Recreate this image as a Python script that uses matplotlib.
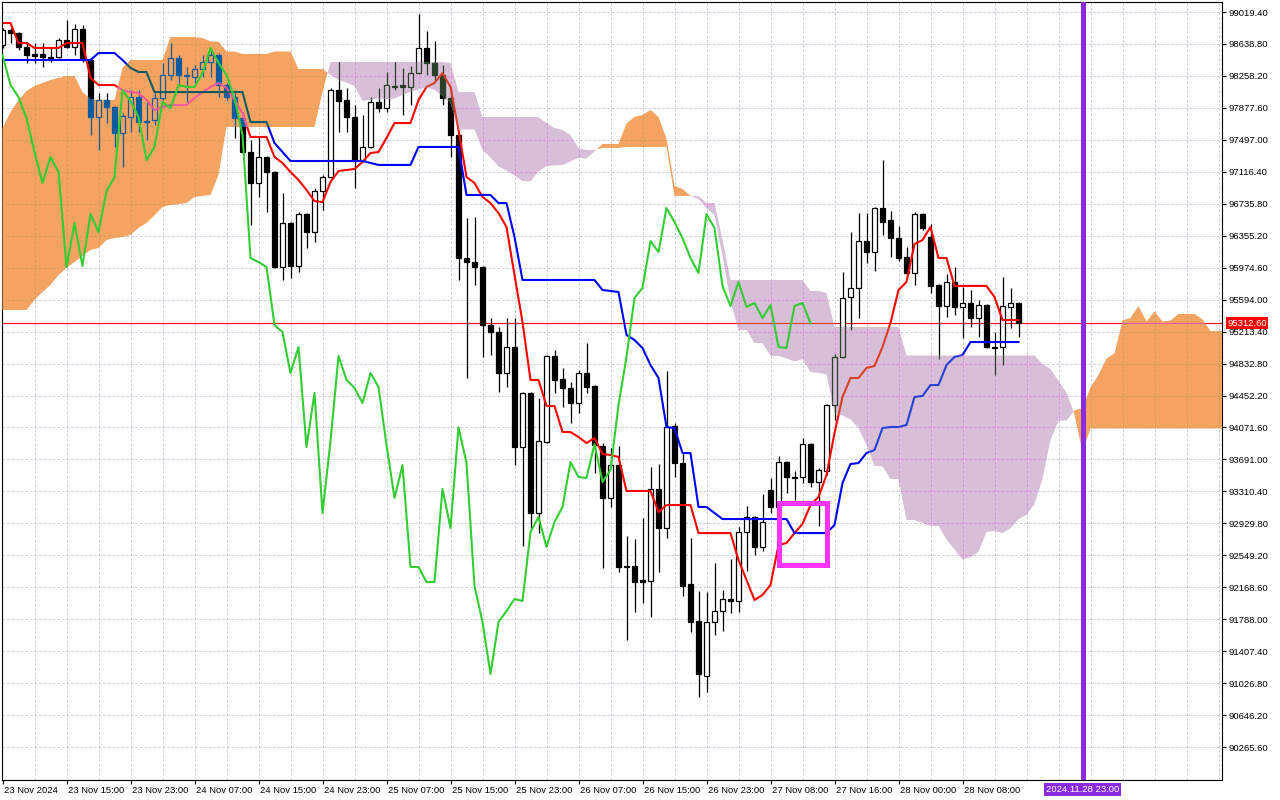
import numpy as np
import matplotlib
matplotlib.use('Agg')
import matplotlib.pyplot as plt
from matplotlib.path import Path
from matplotlib.patches import Rectangle
from matplotlib.transforms import blended_transform_factory, ScaledTranslation

plt.rcParams['font.family'] = ['Liberation Sans', 'DejaVu Sans']

# BTCUSD H1 candles, 23 Nov 07:00 .. 28 Nov 15:00

open_ = [98626, 98805, 98769, 98603, 98519, 98519, 98484, 98484, 98686, 98603,
         98817, 98448, 97769, 97971, 97888, 97578, 97769, 98007, 97721, 97733,
         97995, 98269, 98472, 98269, 98246, 98341, 98424, 98507, 98150, 98007,
         97757, 97352, 96983, 97293, 97114, 95983, 96506, 95995, 96613, 96399,
         96888, 97055, 98090, 97971, 97769, 97257, 97412, 97947, 97876, 98139,
         98150, 98127, 98293, 98591, 98412, 98269, 97995, 97554, 96090, 96042,
         95983, 95291, 95208, 94720, 95030, 93839, 94482, 93053, 93898, 94923,
         94649, 94542, 94363, 94720, 94566, 93851, 93232, 93624, 92422, 92422,
         92255, 92243, 93339, 92874, 94089, 93648, 92207, 91767, 91112, 91755,
         91886, 92029, 92005, 92826, 93006, 92648, 93327, 93125, 93660, 93482,
         93482, 93874, 93422, 93553, 94339, 94911, 95626, 95733, 96292, 96161,
         96685, 96542, 96328, 96102, 95911, 96613, 96340, 95768, 95519, 95804,
         95507, 95554, 95375, 95530, 95030, 95030, 95507, 95554]

high = [98829, 98829, 98781, 98662, 98650, 98650, 98603, 98710, 98924, 98876,
        98864, 98472, 98054, 98054, 97900, 97816, 98090, 98090, 97947, 98054,
        98412, 98650, 98507, 98365, 98388, 98507, 98591, 98531, 98174, 98054,
        97828, 97495, 97531, 97305, 97126, 96864, 96518, 96637, 96625, 96924,
        97078, 98115, 98424, 98115, 97911, 97792, 98007, 98115, 98305, 98424,
        98353, 98377, 98995, 98793, 98674, 98388, 98115, 97590, 96566, 96578,
        95995, 95375, 95268, 95375, 95375, 94494, 94494, 94423, 94934, 94994,
        94780, 94613, 94756, 95077, 94577, 93886, 93827, 93851, 92779, 92743,
        92994, 93601, 93636, 94744, 94124, 93779, 92755, 92124, 92112, 92457,
        92136, 92505, 92886, 93137, 93018, 93279, 93470, 93732, 93672, 93553,
        93946, 93886, 93589, 94351, 94946, 95923, 96399, 96625, 96625, 96697,
        97257, 96649, 96471, 96221, 96637, 96625, 96494, 95780, 95899, 95983,
        95745, 95709, 95590, 95542, 95208, 95864, 95733, 95566]

low = [98591, 98650, 98567, 98412, 98412, 98365, 98424, 98472, 98591, 98507,
       98424, 97554, 97376, 97697, 97412, 97174, 97590, 97590, 97495, 97673,
       97971, 98210, 98174, 97947, 98174, 98246, 98246, 98007, 97971, 97519,
       97340, 96482, 96817, 96637, 95971, 95828, 95852, 95923, 96209, 96280,
       96661, 97043, 97590, 97590, 96924, 97245, 97400, 97828, 97828, 98090,
       97792, 97911, 98281, 98269, 98186, 97911, 97293, 95828, 94661, 95768,
       94911, 94934, 94494, 94554, 93624, 92660, 92874, 92814, 93886, 94482,
       94316, 94124, 94243, 94482, 93529, 92398, 93125, 92350, 91540, 91874,
       91981, 91815, 92350, 92755, 93482, 92065, 91635, 90862, 90921, 91599,
       91647, 91862, 91874, 92362, 92552, 92600, 93053, 93065, 93291, 93208,
       93410, 93363, 92898, 93505, 94160, 94899, 95232, 95375, 96030, 95935,
       96363, 96102, 96054, 95887, 95768, 96423, 95673, 94887, 95387, 95410,
       95137, 95268, 95149, 95018, 94696, 94815, 95256, 95149]

close = [98805, 98769, 98603, 98507, 98496, 98484, 98472, 98686, 98603, 98817,
         98448, 97769, 97971, 97888, 97578, 97781, 98007, 97709, 97709, 97995,
         98269, 98472, 98269, 98258, 98341, 98424, 98507, 98150, 98007, 97757,
         97352, 96983, 97293, 97114, 95983, 96506, 95995, 96613, 96399, 96888,
         97055, 98090, 97959, 97769, 97257, 97412, 97947, 97876, 98150, 98127,
         98127, 98293, 98591, 98412, 98269, 97995, 97554, 96090, 96042, 95983,
         95291, 95208, 94720, 95030, 93839, 94482, 93053, 93910, 94923, 94637,
         94542, 94363, 94720, 94554, 93862, 93232, 93624, 92410, 92410, 92231,
         92231, 93339, 92874, 94077, 93648, 92184, 91755, 91135, 91755, 91886,
         92029, 92005, 92826, 93006, 92648, 92945, 93125, 93660, 93482, 93470,
         93874, 93422, 93565, 94339, 94911, 95614, 95733, 96292, 96161, 96685,
         96518, 96328, 96090, 95911, 96613, 96447, 95757, 95519, 95804, 95507,
         95554, 95375, 95530, 95030, 95018, 95519, 95554, 95312.6]

# Ichimoku (9, 26, 52) as shown on the chart
tenkan = [98888, 98888, 98650, 98650, 98591, 98591, 98591, 98591, 98650, 98650,
          98650, 98234, 98150, 98150, 98150, 98090, 98066, 98054, 97971, 97852,
          97888, 97911, 97911, 97911, 97995, 98066, 98127, 98174, 98115, 97971,
          97816, 97531, 97531, 97531, 97293, 97221, 97114, 97019, 96900, 96768,
          96756, 96995, 97126, 97138, 97150, 97233, 97340, 97352, 97519, 97697,
          97697, 97697, 97971, 98127, 98174, 98293, 98127, 97614, 97055, 96983,
          96817, 96744, 96625, 96459, 95888, 95327, 94637, 94637, 94327, 94327,
          94017, 94017, 93958, 93886, 93946, 93756, 93744, 93720, 93315, 93315,
          93315, 93315, 93065, 93148, 93148, 93148, 93148, 92814, 92814, 92814,
          92814, 92814, 92493, 92255, 92017, 92077, 92196, 92672, 92695, 92814,
          92922, 93148, 93244, 93505, 94005, 94435, 94661, 94661, 94780, 94804,
          95030, 95316, 95709, 95804, 96256, 96304, 96459, 96090, 96090, 95757,
          95757, 95757, 95757, 95757, 95626, 95351, 95351, 95351]

kijun = [98448, 98448, 98448, 98448, 98448, 98448, 98448, 98448, 98448, 98448,
         98448, 98448, 98531, 98531, 98531, 98448, 98353, 98305, 98305, 98066,
         98066, 98066, 98066, 98066, 98066, 98066, 98066, 98066, 98066, 98066,
         98066, 97709, 97709, 97709, 97459, 97352, 97245, 97245, 97245, 97245,
         97245, 97245, 97245, 97245, 97245, 97245, 97221, 97198, 97198, 97198,
         97198, 97198, 97412, 97412, 97412, 97412, 97412, 97412, 96840, 96840,
         96840, 96840, 96744, 96744, 96340, 95828, 95828, 95828, 95828, 95828,
         95828, 95828, 95828, 95828, 95828, 95709, 95697, 95685, 95173, 95113,
         95018, 94815, 94661, 94077, 94065, 93767, 93767, 93125, 93125, 93053,
         92981, 92981, 92981, 92981, 92981, 92981, 92981, 92981, 92981, 92814,
         92814, 92814, 92814, 92814, 92910, 93410, 93636, 93648, 93767, 93803,
         94065, 94077, 94077, 94101, 94435, 94447, 94577, 94577, 94815, 94911,
         94934, 95089, 95089, 95089, 95089, 95089, 95089, 95089]

span_a = [97638, 97828, 97971, 98078, 98139, 98174, 98210, 98234, 98258, 98258,
          98066, 97983, 97971, 97971, 97971, 98353, 98448, 98448, 98448, 98448,
          98448, 98721, 98721, 98721, 98721, 98710, 98668, 98668, 98549, 98549,
          98520, 98520, 98520, 98520, 98549, 98549, 98549, 98341, 98341, 98341,
          98341, 98269, 98210, 98180, 98138, 97959, 97977, 97989, 97989, 97989,
          98031, 98066, 98097, 98120, 98091, 98019, 97941, 97620, 97620, 97620,
          97376, 97287, 97180, 97132, 97073, 97007, 97001, 97120, 97186, 97192,
          97198, 97239, 97281, 97275, 97359, 97448, 97448, 97448, 97692, 97770,
          97793, 97853, 97770, 97513, 96948, 96912, 96829, 96792, 96685, 96602,
          96114, 95578, 95233, 95233, 95078, 95078, 94923, 94923, 94893, 94857,
          94887, 94733, 94721, 94703, 94244, 94214, 94167, 94065, 93863, 93613,
          93607, 93458, 93458, 92970, 92970, 92934, 92898, 92898, 92737, 92618,
          92499, 92529, 92589, 92827, 92838, 92814, 92868, 92981, 93029, 93160,
          93458, 93923, 94149, 94155, 94274, 94304, 94548, 94697, 94893, 94953,
          95346, 95376, 95518, 95334, 95453, 95334, 95346, 95423, 95423, 95423,
          95358, 95220, 95220, 95220]

span_b = [95470, 95470, 95470, 95470, 95590, 95685, 95768, 95888, 95971, 96042,
          96114, 96185, 96209, 96304, 96328, 96340, 96363, 96447, 96506, 96601,
          96697, 96721, 96732, 96744, 96817, 96829, 96840, 97078, 97650, 97650,
          97650, 97650, 97650, 97650, 97650, 97650, 97650, 97650, 97650, 97650,
          98066, 98424, 98424, 98424, 98424, 98424, 98424, 98424, 98424, 98424,
          98424, 98424, 98424, 98424, 98424, 98424, 98412, 98066, 98066, 98066,
          97769, 97769, 97769, 97769, 97769, 97769, 97769, 97769, 97697, 97638,
          97614, 97554, 97400, 97376, 97376, 97400, 97400, 97400, 97412, 97412,
          97412, 97412, 97412, 97412, 96828, 96828, 96828, 96828, 96745, 96745,
          96310, 95828, 95828, 95828, 95828, 95828, 95828, 95828, 95828, 95828,
          95828, 95697, 95697, 95673, 95268, 95268, 95268, 95268, 95268, 95268,
          95268, 95268, 95268, 94929, 94929, 94929, 94929, 94929, 94929, 94929,
          94929, 94929, 94929, 94929, 94929, 94929, 94929, 94929, 94929, 94929,
          94828, 94768, 94625, 94489, 94226, 93780, 94060, 94060, 94060, 94060,
          94060, 94060, 94060, 94060, 94060, 94060, 94060, 94060, 94060, 94060,
          94060, 94060, 94060, 94060]

price_ticks = [99019.40, 98638.80, 98258.20, 97877.60, 97497.00, 97116.40,
               96735.80, 96355.20, 95974.60, 95594.00, 95213.40, 94832.80,
               94452.20, 94071.60, 93691.00, 93310.40, 92929.80, 92549.20,
               92168.60, 91788.00, 91407.40, 91026.80, 90646.20, 90265.60]

time_labels = ['23 Nov 2024', '23 Nov 15:00', '23 Nov 23:00', '24 Nov 07:00',
               '24 Nov 15:00', '24 Nov 23:00', '25 Nov 07:00', '25 Nov 15:00',
               '25 Nov 23:00', '26 Nov 07:00', '26 Nov 15:00', '26 Nov 23:00',
               '27 Nov 08:00', '27 Nov 16:00', '28 Nov 00:00', '28 Nov 08:00']

# highlighted area and the vertical time marker
box_bars = (97, 103)
box_prices = (92428, 93172)
marker_bar = 135
marker_label = '2024.11.28 23:00'
shift = 26

open_ = np.array(open_, float)
high = np.array(high, float)
low = np.array(low, float)
close = np.array(close, float)
tenkan = np.array(tenkan, float)
kijun = np.array(kijun, float)
span_a = np.array(span_a, float)
span_b = np.array(span_b, float)
last_price = close[-1]

n = len(close)
bars = np.arange(n)
cloud_bars = np.arange(len(span_a))
bull = close > open_

UP_KUMO = '#F4A460'
DN_KUMO = '#D8BFD8'
GRID = '#C6C2D2'
# MT5 paints the kumo in xor mode, so whatever lies under it changes colour
XOR = {
    'up': dict(black='#0B5B9F', red='#F45B9F', blue='#0B5B60', grid='#CB9B5F', fill=UP_KUMO),
    'dn': dict(black='#274027', red='#D84027', blue='#2740D8', grid='#E780E7', fill=DN_KUMO),
}

fig = plt.figure(figsize=(12.8, 8), dpi=100, facecolor='white')
ax = fig.add_axes([2 / 1280, 20 / 800, 1220 / 1280, 778 / 800])
ax.set_facecolor('white')
ax.set_xlim(-0.0625, 152.4375)
ax.set_ylim(89873.3, 99138.5)
xlo, xhi = ax.get_xlim()
ylo, yhi = ax.get_ylim()
grid_x = np.arange(4, xhi, 4)
dash = (0, (3, 2.5))


def draw_layer(col, clip=None, z=2.0):
    arts = []
    arts.append(ax.hlines(price_ticks, xlo, xhi, colors=col['grid'], linestyles=dash, lw=0.6, zorder=z))
    arts.append(ax.vlines(grid_x, ylo, yhi, colors=col['grid'], linestyles=dash, lw=0.6, zorder=z))
    arts.append(ax.axhline(last_price, color=col['red'], lw=0.8, zorder=z + 0.1))
    arts.append(ax.vlines(bars, low, high, colors=col['black'], lw=0.9, zorder=z + 0.2))
    face = [col['fill'] if b else col['black'] for b in bull]
    body = ax.bar(bars, np.abs(close - open_), bottom=np.minimum(open_, close), width=0.6,
                  color=face, edgecolor=col['black'], lw=0.9, zorder=z + 0.3)
    arts.extend(body.patches)
    arts.extend(ax.plot(bars, tenkan, color=col['red'], lw=1.5, zorder=z + 0.4))
    arts.extend(ax.plot(bars, kijun, color=col['blue'], lw=1.5, zorder=z + 0.4))
    if clip is not None:
        for a in arts:
            a.set_clip_path(clip, ax.transData)


# plain chart
draw_layer(dict(black='black', red='red', blue='blue', grid=GRID, fill='white'), z=1.0)

# kumo
up = ax.fill_between(cloud_bars, span_a, span_b, where=span_a >= span_b, interpolate=True,
                     color=UP_KUMO, lw=0, zorder=4)
dn = ax.fill_between(cloud_bars, span_a, span_b, where=span_a < span_b, interpolate=True,
                     color=DN_KUMO, lw=0, zorder=4)
draw_layer(XOR['up'], Path.make_compound_path(*up.get_paths()), z=4.2)
draw_layer(XOR['dn'], Path.make_compound_path(*dn.get_paths()), z=4.2)

# chikou span
ax.plot(bars[:n - shift], close[shift:], color='#32CD32', lw=1.5, zorder=6)

ax.add_patch(Rectangle((box_bars[0], box_prices[0]), box_bars[1] - box_bars[0],
                       box_prices[1] - box_prices[0], fill=False, ec='#FF33FF', lw=3.6, zorder=7))
ax.axvline(marker_bar, color='#8A2BE2', lw=3.6, zorder=7)

# axes
for s in ax.spines.values():
    s.set_color('black')
    s.set_linewidth(0.8)
ax.yaxis.tick_right()
ax.set_yticks(price_ticks)
ax.set_yticklabels([f'{p:.2f}' for p in price_ticks])
ax.tick_params(axis='y', length=3, width=0.8, pad=2, labelsize=6.8, colors='black')
ax.set_xticks(bars[::8])
ax.set_xticklabels(time_labels, ha='left')
ax.tick_params(axis='x', length=3, width=0.8, pad=1.5, labelsize=6.8, colors='black')
nudge = ScaledTranslation(2 / 100, 0, fig.dpi_scale_trans)
for lab in ax.get_xticklabels():
    lab.set_transform(lab.get_transform() + nudge)

ax.text(1.0041, last_price, f'{last_price:.2f}', transform=blended_transform_factory(ax.transAxes, ax.transData),
        ha='left', va='center', fontsize=6.8, color='white', clip_on=False, zorder=10,
        bbox=dict(boxstyle='square,pad=0.15', fc='red', ec='none'))
ax.text(marker_bar, -0.0125, marker_label, transform=blended_transform_factory(ax.transData, ax.transAxes),
        ha='center', va='center', fontsize=6.8, color='white', clip_on=False, zorder=10,
        bbox=dict(boxstyle='square,pad=0.2', fc='#8A2BE2', ec='none'))

fig.savefig('out.png', dpi=100, facecolor='white')
